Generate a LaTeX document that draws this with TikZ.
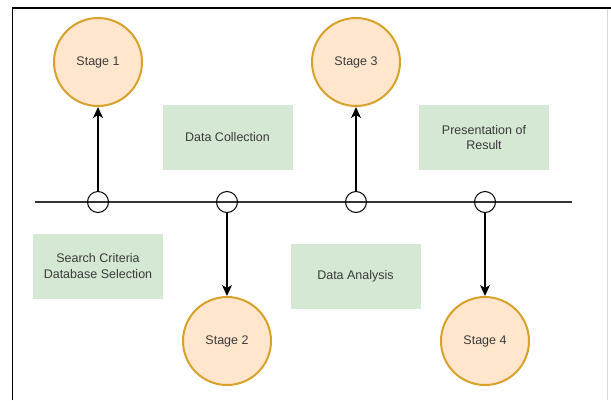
\documentclass[tikz,border=0pt]{standalone}
\usepackage{fontspec}
\setmainfont{Liberation Sans}
\usetikzlibrary{arrows.meta}
\definecolor{stageborder}{HTML}{D9A12A}
\definecolor{stagefill}{HTML}{FFE6CC}
\definecolor{notefill}{HTML}{D5E8D4}
\definecolor{txt}{HTML}{3A3A3A}
\tikzset{
  stagenode/.style={circle, draw=stageborder, fill=stagefill, line width=2pt,
    minimum size=88pt, inner sep=0pt, text=txt,
    font=\fontsize{12.5}{15}\selectfont},
  notebox/.style={rectangle, fill=notefill, minimum width=130pt, minimum height=65pt,
    inner sep=0pt, align=center, text=txt, font=\fontsize{12.5}{15.5}\selectfont},
  joint/.style={circle, draw=black, line width=1pt, minimum size=21pt, inner sep=0pt},
  link/.style={draw=black, line width=1.4pt, -{Stealth[length=11pt,width=10pt,inset=3pt]}},
}
\begin{document}
\begin{tikzpicture}[x=1pt,y=-1pt]
\useasboundingbox (0,0) rectangle (611,400);
% frame
\draw[black, line width=1.5pt] (12.5,400) -- (12.5,8) -- (611,8);
\draw[black!15, line width=0.8pt] (607.5,9) -- (607.5,400);
% timeline
\coordinate (tl) at (35,202);
\coordinate (tr) at (572,202);
\draw[black!80, line width=2pt] (tl) -- (tr);
% joints on the timeline
\node[joint] (j1) at (98,202) {};
\node[joint] (j2) at (227,202) {};
\node[joint] (j3) at (356,202) {};
\node[joint] (j4) at (485,202) {};
% stages
\node[stagenode] (s1) at (98,62) {Stage 1};
\node[stagenode] (s3) at (356,62) {Stage 3};
\node[stagenode] (s2) at (227,341) {Stage 2};
\node[stagenode] (s4) at (485,341) {Stage 4};
% notes
\node[notebox] (n1) at (98,266) {Search Criteria\\Database Selection};
\node[notebox] (n2) at (227.5,137.5) {Data Collection};
\node[notebox] (n3) at (355.5,276.5) {Data Analysis};
\node[notebox] (n4) at (484,137.5) {Presentation of\\Result};
% connectors
\draw[link] (j1.north) -- (s1.south);
\draw[link] (j2.south) -- (s2.north);
\draw[link] (j3.north) -- (s3.south);
\draw[link] (j4.south) -- (s4.north);
\end{tikzpicture}
\end{document}
